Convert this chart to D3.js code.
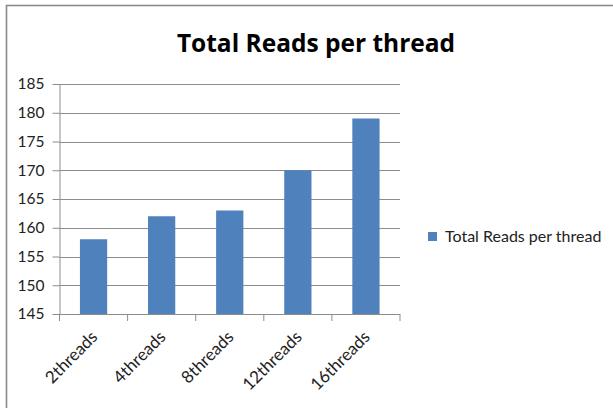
<!DOCTYPE html>
<html><head><meta charset="utf-8">
<script src="https://cdn.jsdelivr.net/npm/d3@7"></script>
<style>html,body{margin:0;padding:0;background:#fff;}svg{display:block;}</style>
</head><body>
<script>
const categories = ["2threads","4threads","8threads","12threads","16threads"];
const values = [158, 162, 163, 170, 179];
const yTicks = [145,150,155,160,165,170,175,180,185];
const seriesName = "Total Reads per thread";
const title = "Total Reads per thread";

const W = 613, H = 408;
const svg = d3.select("body").append("svg").attr("width", W).attr("height", H);
svg.append("rect").attr("width", W).attr("height", H).attr("fill", "#fff");
svg.append("rect").attr("x", 6.5).attr("y", 5.5).attr("width", 640).attr("height", 440)
  .attr("fill", "none").attr("stroke", "#8a8a8a").attr("stroke-width", 1.6);

const L = 59.5, R = 400, T = 84, B = 314;
const x = d3.scaleBand().domain(categories).range([L, R]).paddingInner(0.6).paddingOuter(0.3);
const xb = d3.scaleBand().domain(categories).range([L, R]);
const y = d3.scaleLinear().domain([145, 185]).range([B, T]);

const font = "Lato, 'Liberation Sans', Arial, sans-serif";

// gridlines
svg.append("g").selectAll("line").data(yTicks.slice(1)).join("line")
  .attr("x1", L).attr("x2", R).attr("y1", d => Math.round(y(d)) + 0.5).attr("y2", d => Math.round(y(d)) + 0.5)
  .attr("stroke", "#8c8c8c").attr("stroke-width", 1);

// bars
svg.append("g").selectAll("rect").data(values).join("rect")
  .attr("x", (d, i) => x(categories[i])).attr("width", x.bandwidth())
  .attr("y", d => y(d)).attr("height", d => y(145) - y(d))
  .attr("fill", "#4F81BD");

// y axis
const ya = svg.append("g").attr("transform", `translate(${L},0)`)
  .call(d3.axisLeft(y).tickValues(yTicks).tickSize(7).tickSizeOuter(0).tickPadding(8));
ya.select(".domain").attr("stroke", "#8c8c8c");
ya.selectAll(".tick line").attr("stroke", "#8c8c8c");
ya.selectAll("text").attr("font-family", font).attr("font-size", "15.5px").attr("fill", "#222");

// x axis
const xa = svg.append("g").attr("transform", `translate(0,${B})`);
xa.append("line").attr("x1", L).attr("x2", R).attr("y1", 0.5).attr("y2", 0.5).attr("stroke", "#8c8c8c");
const edges = categories.map(c => xb(c)).concat([R]);
xa.selectAll("line.tk").data(edges).join("line").attr("class", "tk")
  .attr("x1", d => d).attr("x2", d => d).attr("y1", 0).attr("y2", 7).attr("stroke", "#8c8c8c");
xa.selectAll("text").data(categories).join("text")
  .attr("transform", d => `translate(${xb(d) + xb.bandwidth() / 2 + 5},${24}) rotate(-45)`)
  .attr("text-anchor", "end").attr("font-family", font).attr("font-size", "17px").attr("fill", "#222")
  .text(d => d);

// title
svg.append("text").attr("x", 316).attr("y", 52).attr("text-anchor", "middle")
  .attr("font-family", "'Open Sans', Lato, sans-serif").attr("font-weight", "bold").attr("font-size", "24.5px").attr("fill", "#000")
  .text(title);

// legend
svg.append("rect").attr("x", 428).attr("y", 232).attr("width", 9).attr("height", 9).attr("fill", "#4F81BD");
svg.append("text").attr("x", 445).attr("y", 242).attr("font-family", font).attr("font-size", "16px").attr("fill", "#222")
  .text(seriesName);
</script>
</body></html>
